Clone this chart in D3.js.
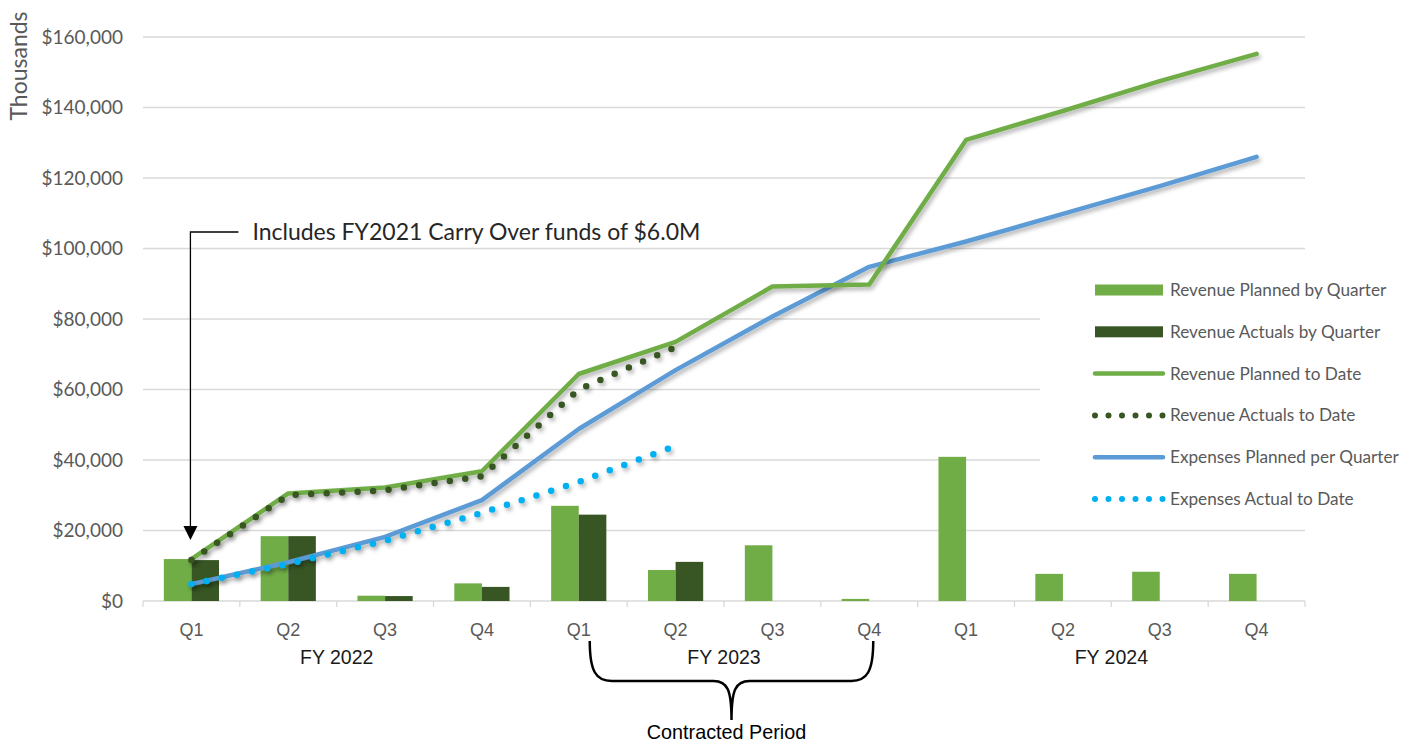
<!DOCTYPE html>
<html>
<head>
<meta charset="utf-8">
<script src="https://cdn.jsdelivr.net/npm/d3@7"></script>
<style>
  body { margin: 0; background: #fff; }
  text { font-family: Lato, "Open Sans", sans-serif; }
  .arial { font-family: "Liberation Sans", Arial, sans-serif; }
</style>
</head>
<body>
<div id="chart"></div>
<script>
// Fiscal years and quarters
const fiscalYears = ["FY 2022", "FY 2023", "FY 2024"];
const quarters = ["Q1", "Q2", "Q3", "Q4"];

// Quarterly bars (thousands)
const revenuePlannedByQuarter = [11900, 18400, 1500, 5000, 27000, 8800, 15800, 600, 40900, 7700, 8300, 7700];
const revenueActualsByQuarter = [11600, 18400, 1400, 4000, 24500, 11100, null, null, null, null, null, null];

// Cumulative lines (thousands)
const revenuePlannedToDate = [11900, 30500, 32200, 36800, 64400, 73500, 89200, 89800, 130800, 139000, 147500, 155200];
const revenueActualsToDate = [11600, 30000, 31400, 35400, 60000, 72000, null, null, null, null, null, null];
const expensesPlanned = [4800, 11000, 18200, 28600, 48800, 65500, 80700, 94800, 102000, 109800, 117700, 126000];
const expensesActualToDate = [4800, 10500, 17100, 25000, 33800, 44000, null, null, null, null, null, null];

const yTicks = [0, 20000, 40000, 60000, 80000, 100000, 120000, 140000, 160000];

const legendItems = [
    { label: "Revenue Planned by Quarter", type: "bar", color: "#70AD47" },
    { label: "Revenue Actuals by Quarter", type: "bar", color: "#375623" },
    { label: "Revenue Planned to Date", type: "line", color: "#70AD47" },
    { label: "Revenue Actuals to Date", type: "dots", color: "#375623" },
    { label: "Expenses Planned per Quarter", type: "line", color: "#5B9BD5" },
    { label: "Expenses Actual to Date", type: "dots", color: "#00B0F0" }
];

const width = 1417, height = 744;
const margin = { top: 37, right: 112, bottom: 143, left: 143 };
const innerW = width - margin.left - margin.right;
const innerH = height - margin.top - margin.bottom;

const categories = [];
fiscalYears.forEach(fy => quarters.forEach(q => categories.push({ fy: fy, q: q, key: fy + "|" + q })));

const svg = d3.select("#chart").append("svg")
    .attr("width", width)
    .attr("height", height);

// shadow for lines
const defs = svg.append("defs");
defs.append("filter")
    .attr("id", "shadow")
    .attr("x", "-10%").attr("y", "-10%")
    .attr("width", "120%").attr("height", "130%")
    .append("feDropShadow")
    .attr("dx", 2).attr("dy", 3)
    .attr("stdDeviation", 2)
    .attr("flood-color", "#000")
    .attr("flood-opacity", 0.3);

const g = svg.append("g").attr("transform", `translate(${margin.left},${margin.top})`);

const x0 = d3.scaleBand()
    .domain(categories.map(d => d.key))
    .range([0, innerW])
    .padding(0);

const groupW = x0.bandwidth() * 0.57;
const x1 = d3.scaleBand()
    .domain(["planned", "actual"])
    .range([(x0.bandwidth() - groupW) / 2, (x0.bandwidth() + groupW) / 2])
    .padding(0);

const y = d3.scaleLinear()
    .domain([0, 160000])
    .range([innerH, 0]);

const cx = i => x0(categories[i].key) + x0.bandwidth() / 2;

// gridlines
g.append("g")
    .selectAll("line")
    .data(yTicks)
    .enter()
    .append("line")
    .attr("x1", 0)
    .attr("x2", innerW)
    .attr("y1", d => y(d))
    .attr("y2", d => y(d))
    .attr("stroke", "#D9D9D9")
    .attr("stroke-width", 1.3);

// y axis labels
const yAxis = d3.axisLeft(y)
    .tickValues(yTicks)
    .tickSize(0)
    .tickPadding(20)
    .tickFormat(d => "$" + d3.format(",")(d));

g.append("g")
    .call(yAxis)
    .call(a => a.select(".domain").remove())
    .selectAll("text")
    .style("font-family", "Lato, sans-serif")
    .style("font-size", "19px")
    .attr("fill", "#595959");

svg.append("text")
    .attr("transform", `translate(27, 66) rotate(-90)`)
    .attr("text-anchor", "middle")
    .style("font-size", "23px")
    .attr("fill", "#595959")
    .text("Thousands");

// x axis: boundary ticks
g.append("g")
    .selectAll("line")
    .data(d3.range(categories.length + 1))
    .enter()
    .append("line")
    .attr("x1", i => i * x0.bandwidth())
    .attr("x2", i => i * x0.bandwidth())
    .attr("y1", innerH)
    .attr("y2", innerH + 6)
    .attr("stroke", "#D9D9D9")
    .attr("stroke-width", 1.3);

g.append("g")
    .selectAll("text")
    .data(categories)
    .enter()
    .append("text")
    .attr("class", "arial")
    .attr("x", (d, i) => cx(i))
    .attr("y", innerH + 35)
    .attr("text-anchor", "middle")
    .style("font-size", "18px")
    .attr("fill", "#595959")
    .text(d => d.q);

g.append("g")
    .selectAll("text")
    .data(fiscalYears)
    .enter()
    .append("text")
    .attr("class", "arial")
    .attr("x", (d, i) => (x0(d + "|Q1") + x0(d + "|Q4") + x0.bandwidth()) / 2)
    .attr("y", innerH + 63)
    .attr("text-anchor", "middle")
    .style("font-size", "19.5px")
    .attr("fill", "#1a1a1a")
    .text(d => d);

// bars
const barGroups = g.append("g")
    .selectAll("g")
    .data(categories)
    .enter()
    .append("g")
    .attr("transform", d => `translate(${x0(d.key)},0)`);

barGroups.each(function(d, i) {
    const grp = d3.select(this);
    const vals = [
        { k: "planned", v: revenuePlannedByQuarter[i], c: "#70AD47" },
        { k: "actual", v: revenueActualsByQuarter[i], c: "#375623" }
    ].filter(b => b.v != null);
    grp.selectAll("rect")
        .data(vals)
        .enter()
        .append("rect")
        .attr("x", b => x1(b.k))
        .attr("width", x1.bandwidth())
        .attr("y", b => y(b.v))
        .attr("height", b => innerH - y(b.v))
        .attr("fill", b => b.c);
});

// lines
const line = d3.line()
    .defined(d => d != null)
    .x((d, i) => cx(i))
    .y(d => y(d));

function drawLine(values, color, dotted) {
    const p = g.append("path")
        .datum(values)
        .attr("d", line)
        .attr("fill", "none")
        .attr("stroke", color)
        .attr("filter", "url(#shadow)");
    if (dotted) {
        p.attr("stroke-width", 6.5)
            .attr("stroke-linecap", "round")
            .attr("stroke-dasharray", "0 15.5");
    } else {
        p.attr("stroke-width", 4.5)
            .attr("stroke-linejoin", "round")
            .attr("stroke-linecap", "round");
    }
}

drawLine(expensesPlanned, "#5B9BD5", false);
drawLine(revenuePlannedToDate, "#70AD47", false);
drawLine(expensesActualToDate, "#00B0F0", true);
drawLine(revenueActualsToDate, "#375623", true);

// legend
const legend = svg.append("g").attr("transform", "translate(1040, 262)");
legend.append("rect")
    .attr("width", 377)
    .attr("height", 255)
    .attr("fill", "#fff");

const rows = legend.selectAll(".legend-row")
    .data(legendItems)
    .enter()
    .append("g")
    .attr("class", "legend-row")
    .attr("transform", (d, i) => `translate(0, ${28 + i * 41.8})`);

rows.each(function(d) {
    const r = d3.select(this);
    if (d.type === "bar") {
        r.append("rect")
            .attr("x", 55).attr("y", -5.5)
            .attr("width", 68).attr("height", 11)
            .attr("fill", d.color);
    } else if (d.type === "line") {
        r.append("line")
            .attr("x1", 55).attr("x2", 123)
            .attr("stroke", d.color)
            .attr("stroke-width", 4.5)
            .attr("stroke-linecap", "round");
    } else {
        r.append("line")
            .attr("x1", 55).attr("x2", 123)
            .attr("stroke", d.color)
            .attr("stroke-width", 6)
            .attr("stroke-linecap", "round")
            .attr("stroke-dasharray", "0 13.5");
    }
    r.append("text")
        .attr("x", 130)
        .attr("dy", "0.35em")
        .style("font-size", "17.2px")
        .attr("fill", "#595959")
        .text(d.label);
});

// annotation: carry over arrow
const ax = margin.left + cx(0) - 1;
const tipY = margin.top + y(revenuePlannedToDate[0]) - 19;
const ann = svg.append("g");
ann.append("path")
    .attr("d", `M${ax + 48},232 H${ax} V${tipY - 12}`)
    .attr("fill", "none")
    .attr("stroke", "#000")
    .attr("stroke-width", 1.3);
ann.append("path")
    .attr("d", `M${ax - 7},${tipY - 14} L${ax + 7},${tipY - 14} L${ax},${tipY} Z`)
    .attr("fill", "#000");
ann.append("text")
    .attr("x", ax + 62)
    .attr("y", 240)
    .style("font-size", "23px")
    .attr("fill", "#262626")
    .text("Includes FY2021 Carry Over funds of $6.0M");

// contracted period brace
const bl = margin.left + cx(4) + 11;
const br = margin.left + cx(7) + 4;
const bm = (bl + br) / 2;
svg.append("path")
    .attr("d", `M${bl},641 C${bl},671 ${bl + 6},681 ${bl + 22},681 L${bm - 18},681 C${bm - 4},681 ${bm},690 ${bm},720 C${bm},690 ${bm + 4},681 ${bm + 18},681 L${br - 22},681 C${br - 6},681 ${br},671 ${br},641`)
    .attr("fill", "none")
    .attr("stroke", "#000")
    .attr("stroke-width", 2.5);

svg.append("text")
    .attr("class", "arial")
    .attr("x", bm - 5)
    .attr("y", 739)
    .attr("text-anchor", "middle")
    .style("font-size", "19.8px")
    .attr("fill", "#000")
    .text("Contracted Period");
</script>
</body>
</html>
